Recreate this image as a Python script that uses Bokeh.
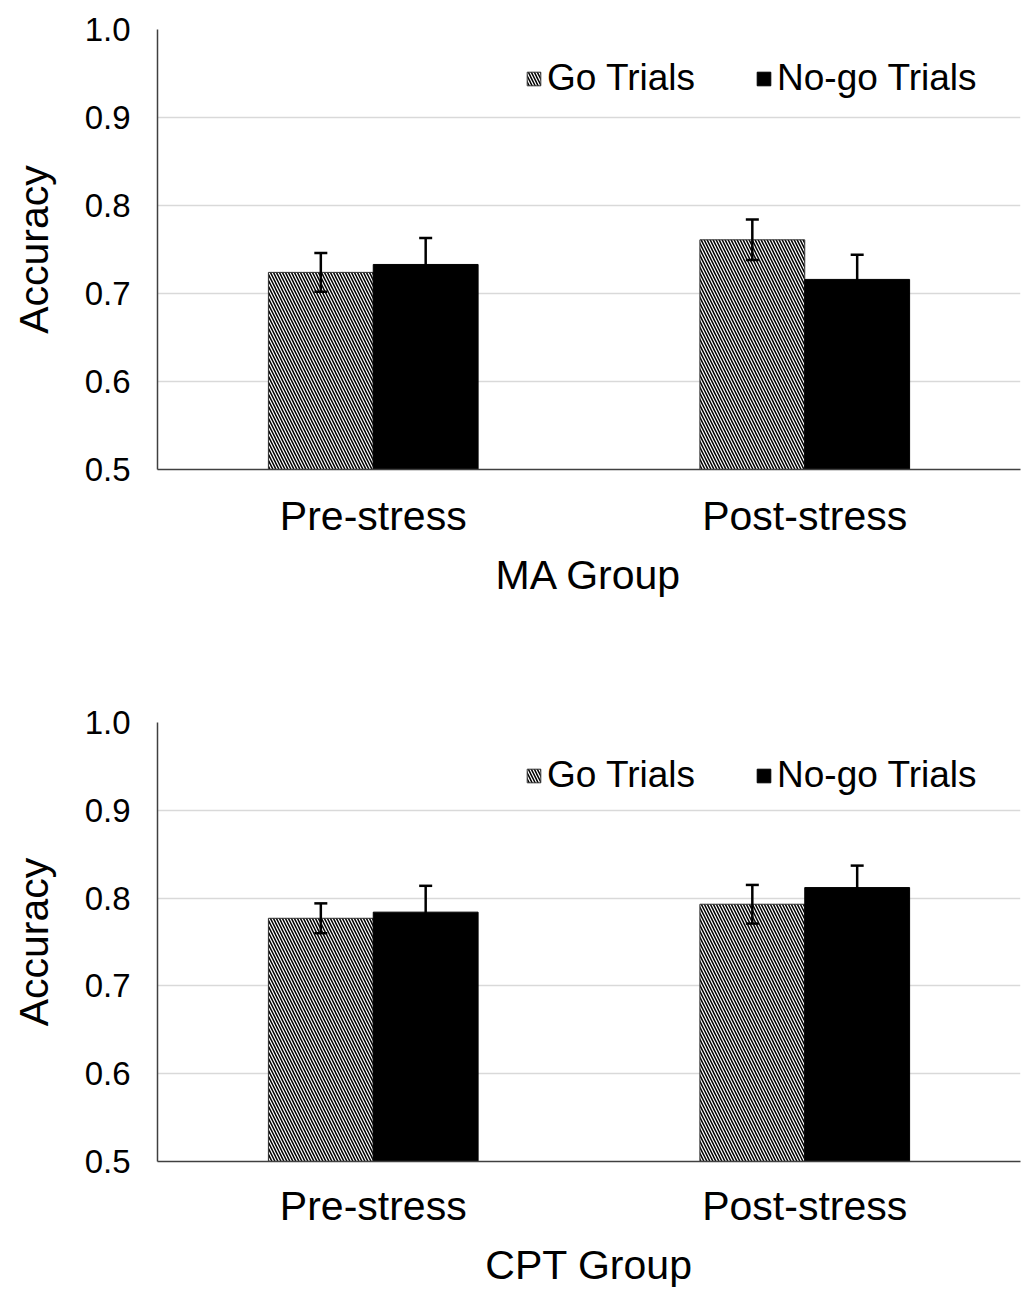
from bokeh.plotting import figure
from bokeh.models import (ColumnDataSource, FactorRange, Range1d, FixedTicker,
                          PrintfTickFormatter, Whisker, TeeHead)
from bokeh.transform import dodge
from bokeh.layouts import column
from bokeh.embed import file_html
from bokeh.resources import INLINE

categories = ["Pre-stress", "Post-stress"]
series_names = ["Go Trials", "No-go Trials"]
y_ticks = [0.5, 0.6, 0.7, 0.8, 0.9, 1.0]

ma_go = [0.724, 0.761]
ma_go_err = [0.022, 0.023]
ma_nogo = [0.733, 0.716]
ma_nogo_err = [0.030, 0.028]

cpt_go = [0.777, 0.793]
cpt_go_err = [0.017, 0.022]
cpt_nogo = [0.784, 0.812]
cpt_nogo_err = [0.030, 0.025]

FONT = "Liberation Sans"
BAR_W = 0.243
OFF = BAR_W / 2


def make_panel(go, go_err, nogo, nogo_err, xlabel, height, border_top,
               border_bottom, cat_standoff, title_standoff, legend_y):
    src = ColumnDataSource(dict(
        x=categories,
        go=go,
        nogo=nogo,
        go_up=[v + e for v, e in zip(go, go_err)],
        go_lo=[v - e for v, e in zip(go, go_err)],
        nogo_up=[v + e for v, e in zip(nogo, nogo_err)],
        nogo_lo=[v - e for v, e in zip(nogo, nogo_err)],
    ))
    p = figure(width=1022, height=height,
               x_range=FactorRange(*categories, range_padding=0),
               y_range=Range1d(y_ticks[0], y_ticks[-1]),
               output_backend="svg", toolbar_location=None,
               min_border_left=157, min_border_right=2,
               min_border_top=border_top, min_border_bottom=border_bottom)
    p.outline_line_color = None
    p.background_fill_color = "white"
    p.border_fill_color = "white"

    p.vbar(x=dodge("x", -OFF, range=p.x_range), top="go", bottom=y_ticks[0],
           width=BAR_W, source=src, fill_color="white", line_color="#303030",
           line_width=1, hatch_pattern="\\", hatch_color="black",
           hatch_weight=1.5, hatch_scale=6, legend_label=series_names[0])
    p.vbar(x=dodge("x", OFF, range=p.x_range), top="nogo", bottom=y_ticks[0],
           width=BAR_W, source=src, fill_color="black", line_color="black",
           line_width=1, legend_label=series_names[1])

    for off, up, lo in ((-OFF, "go_up", "go_lo"), (OFF, "nogo_up", "nogo_lo")):
        w = Whisker(source=src, base=dodge("x", off, range=p.x_range),
                    upper=up, lower=lo, dimension="height", level="annotation",
                    line_color="black", line_width=2.5,
                    upper_head=TeeHead(size=13, line_width=2.5, line_color="black"),
                    lower_head=TeeHead(size=13, line_width=2.5, line_color="black"))
        p.add_layout(w)

    p.xgrid.grid_line_color = None
    p.ygrid.grid_line_color = "#d9d9d9"
    p.ygrid.grid_line_width = 1.5

    p.yaxis.ticker = FixedTicker(ticks=y_ticks)
    p.yaxis.formatter = PrintfTickFormatter(format="%.1f")
    p.yaxis.axis_label = "Accuracy"
    p.xaxis.axis_label = xlabel
    for ax in (p.xaxis[0], p.yaxis[0]):
        ax.axis_line_color = "#404040"
        ax.axis_line_width = 1.5
        ax.major_tick_line_color = None
        ax.minor_tick_line_color = None
        ax.major_tick_out = 0
        ax.major_tick_in = 0
        ax.major_label_text_font = FONT
        ax.major_label_text_color = "black"
        ax.axis_label_text_font = FONT
        ax.axis_label_text_font_style = "normal"
        ax.axis_label_text_font_size = "41px"
        ax.axis_label_text_color = "black"
    p.yaxis.major_label_text_font_size = "33px"
    p.yaxis.major_label_standoff = 27
    p.yaxis.axis_label_standoff = 25
    p.xaxis.major_label_text_font_size = "41px"
    p.xaxis.major_label_standoff = cat_standoff
    p.xaxis.axis_label_standoff = title_standoff

    lg = p.legend[0]
    lg.orientation = "horizontal"
    lg.location = (368, legend_y)
    lg.border_line_color = None
    lg.background_fill_alpha = 0
    lg.padding = 0
    lg.margin = 0
    lg.spacing = 60
    lg.glyph_width = 17
    lg.glyph_height = 17
    lg.label_standoff = 5
    lg.label_text_font = FONT
    lg.label_text_font_size = "37px"
    lg.label_text_color = "black"
    return p


p1 = make_panel(ma_go, ma_go_err, ma_nogo, ma_nogo_err, "MA Group",
                700, 29, 231, 23, 10, 370)
p2 = make_panel(cpt_go, cpt_go_err, cpt_nogo, cpt_nogo_err, "CPT Group",
                591, 22, 130, 21, 10, 365)

layout = column(p1, p2, spacing=0)
open("out.html", "w").write(file_html(layout, INLINE))
